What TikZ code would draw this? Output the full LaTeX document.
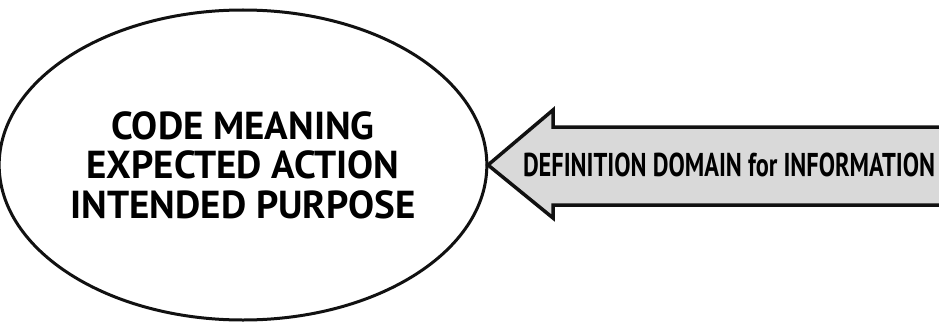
\documentclass[tikz,border=0pt]{standalone}
\usepackage{fontspec}
\usepackage{graphicx}
\setmainfont{PT Sans}
\usepackage{tikz}
\usetikzlibrary{shapes.geometric}
\definecolor{ArrowGrey}{HTML}{D9D9D9}
\definecolor{LineBlack}{HTML}{111111}
\tikzset{
  meaning/.style={
    draw=LineBlack,
    ellipse,
    line width=3pt,
    inner sep=0pt,
    minimum width=470pt,
    minimum height=310pt,
    align=center,
    font=\fontsize{39}{39.5}\selectfont\bfseries
  },
  domainarrow/.style={
    draw=LineBlack,
    line width=3.5pt,
    line join=miter
  },
  domaintext/.style={
    inner sep=0pt,
    font=\fontsize{33}{35}\selectfont\bfseries
  }
}

\begin{document}
\begin{tikzpicture}[x=1pt,y=1pt]
    \useasboundingbox (0,0) rectangle (939,322);
    \node[meaning] (code) at (243,157) {CODE MEANING\\EXPECTED ACTION\\INTENDED PURPOSE};

    \coordinate (tip) at (488,157);
    \coordinate (headtop) at (553,212);
    \coordinate (headbot) at (553,104);
    \coordinate (shafttop) at (553,195);
    \coordinate (shaftbot) at (553,117);
    \coordinate (endtop) at (950,195);
    \coordinate (endbot) at (950,117);

    \fill[ArrowGrey] (endtop) -- (shafttop) -- (headtop) -- (tip) -- (headbot) -- (shaftbot) -- (endbot) -- cycle;
    \draw[domainarrow] (endtop) -- (shafttop) -- (headtop) -- (tip) -- (headbot) -- (shaftbot) -- (endbot);

    \node[domaintext] (domain) at (729,157) {\resizebox{412pt}{\height}{DEFINITION DOMAIN for INFORMATION}};
  \end{tikzpicture}
\end{document}
